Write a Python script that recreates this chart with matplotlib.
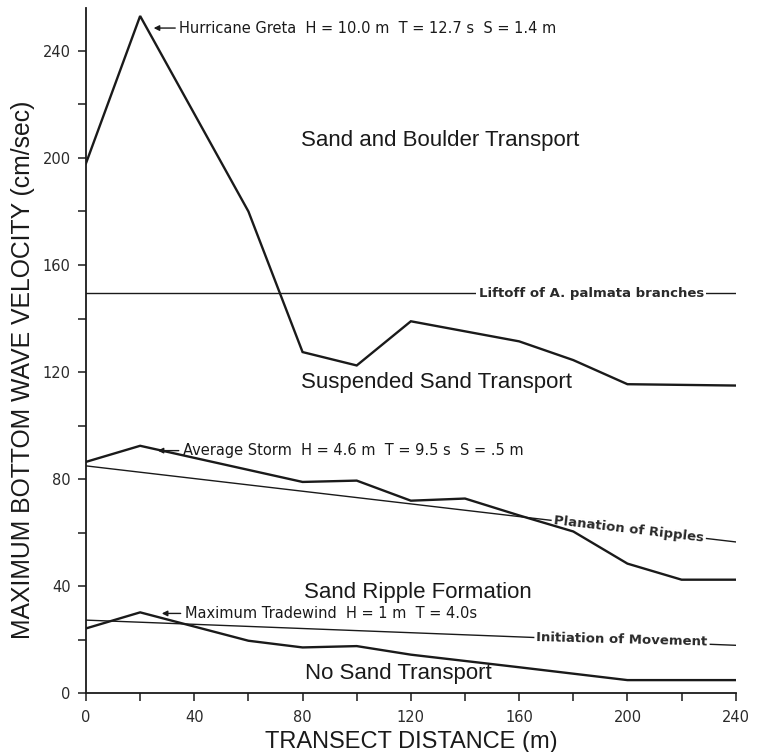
import matplotlib.pyplot as plt
import numpy as np

# transect distance (m) and max bottom wave velocity (cm/sec)
hurricane_x = [0, 20, 60, 80, 100, 120, 160, 180, 200, 240]
hurricane_y = [198, 253, 180, 127.5, 122.5, 139, 131.5, 124.5, 115.5, 115]

storm_x = [0, 20, 80, 100, 120, 140, 160, 180, 200, 220, 240]
storm_y = [86.5, 92.5, 79, 79.5, 72, 72.8, 66.5, 60.5, 48.5, 42.5, 42.5]

tradewind_x = [0, 20, 60, 80, 100, 120, 160, 200, 240]
tradewind_y = [24.3, 30.3, 19.7, 17.2, 17.7, 14.5, 9.8, 5, 5]

# threshold lines (start / end values at x = 0 and 240)
threshold_x = [0, 240]
liftoff_y = [149.5, 149.5]
planation_y = [85, 56.6]
initiation_y = [27.4, 18.0]

x_ticks = np.arange(0, 241, 20)
x_labels = [str(v) if v % 40 == 0 else '' for v in x_ticks]
y_ticks = np.arange(0, 241, 20)
y_labels = [str(v) if v % 40 == 0 else '' for v in y_ticks]

plt.rcParams['font.family'] = ['Liberation Sans', 'DejaVu Sans']
ink = '#1a1a1a'

fig = plt.figure(figsize=(7.57, 7.52), dpi=100)
ax = fig.add_axes([0.1136, 0.0778, 0.8583, 0.9116])

# reference lines
for yy in (liftoff_y, planation_y, initiation_y):
    ax.plot(threshold_x, yy, color=ink, lw=1.0, zorder=1)

# wave curves
for xx, yy in ((hurricane_x, hurricane_y), (storm_x, storm_y), (tradewind_x, tradewind_y)):
    ax.plot(xx, yy, color=ink, lw=1.7, zorder=3, solid_joinstyle='miter')

box = dict(facecolor='white', edgecolor='none', pad=1.5)
small = dict(family=['DejaVu Sans'], fontsize=9.5, weight='bold', color='#2a2a2a', zorder=2)
ax.text(145, liftoff_y[0], 'Liftoff of A. palmata branches', ha='left', va='center',
        bbox=box, **small)
ax.text(200.5, 61.4, 'Planation of Ripples', ha='center', va='center',
        rotation=-6.7, rotation_mode='anchor', bbox=box, **small)
ax.text(198, 19.9, 'Initiation of Movement', ha='center', va='center',
        rotation=-1.5, rotation_mode='anchor', bbox=box, **small)

arrow = dict(arrowstyle='-|>', color=ink, lw=1.0, mutation_scale=8, shrinkA=1, shrinkB=0)
ann = dict(ha='left', va='center', fontsize=10.5, color=ink, family=['DejaVu Sans'])
ax.annotate('Hurricane Greta  H = 10.0 m  T = 12.7 s  S = 1.4 m', xy=(25, 248.5),
            xytext=(34.5, 248.5), arrowprops=arrow, **ann)
ax.annotate('Average Storm  H = 4.6 m  T = 9.5 s  S = .5 m', xy=(26.5, 90.7),
            xytext=(35.8, 90.7), arrowprops=arrow, **ann)
ax.annotate('Maximum Tradewind  H = 1 m  T = 4.0s', xy=(28, 29.9),
            xytext=(36.5, 29.9), arrowprops=arrow, **ann)

big = dict(ha='center', va='center', fontsize=16, color=ink)
ax.text(131, 206.5, 'Sand and Boulder Transport', **big)
ax.text(129.5, 116, 'Suspended Sand Transport', **big)
ax.text(122.5, 37.8, 'Sand Ripple Formation', **big)
ax.text(115.5, 7.4, 'No Sand Transport', **big)

ax.set_xlim(0, 240)
ax.set_ylim(0, 256)
ax.set_xticks(x_ticks)
ax.set_xticklabels(x_labels)
ax.set_yticks(y_ticks)
ax.set_yticklabels(y_labels)
ax.tick_params(direction='out', length=6, width=1.1, color=ink, labelsize=10.5,
               labelcolor='#2a2a2a', pad=5)
ax.tick_params(axis='x', pad=6)
for lab in ax.get_xticklabels() + ax.get_yticklabels():
    lab.set_family(['DejaVu Sans'])

for side in ('top', 'right'):
    ax.spines[side].set_visible(False)
for side in ('left', 'bottom'):
    ax.spines[side].set_linewidth(1.3)
    ax.spines[side].set_color(ink)

ax.set_xlabel('TRANSECT DISTANCE (m)', fontsize=17, color=ink, labelpad=4)
ax.set_ylabel('MAXIMUM BOTTOM WAVE VELOCITY (cm/sec)', fontsize=17.8, color=ink)
ax.yaxis.set_label_coords(-0.079, 0.472)

fig.savefig('out.png', dpi=100)
